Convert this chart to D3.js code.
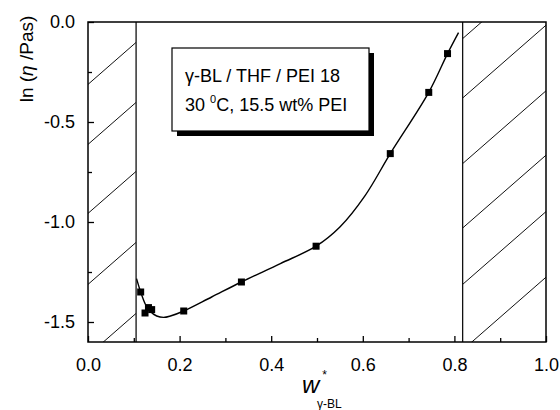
<!DOCTYPE html>
<html>
<head>
<meta charset="utf-8">
<script src="https://cdn.jsdelivr.net/npm/d3@7"></script>
<style>
  html, body { margin: 0; padding: 0; background: #fff; }
  svg { display: block; }
</style>
</head>
<body>
<div id="chart"></div>
<script>
// ln(viscosity) vs weight fraction of gamma-BL, with hatched two-phase regions

const xTicks      = [0.0, 0.2, 0.4, 0.6, 0.8, 1.0];
const xMinorTicks = [0.1, 0.3, 0.5, 0.7, 0.9];
const yTicks      = [-1.5, -1.0, -0.5, 0.0];
const yMinorTicks = [-1.25, -0.75, -0.25];

// measured points
const pointW   = [0.115, 0.1245, 0.132, 0.139, 0.209, 0.335, 0.498, 0.660, 0.744, 0.785];
const pointEta = [-1.350, -1.455, -1.428, -1.438, -1.445, -1.300, -1.121, -0.658, -0.352, -0.158];

// guide-to-the-eye curve
const curveW   = [0.106, 0.115, 0.125, 0.135, 0.150, 0.165, 0.180, 0.209, 0.270, 0.335, 0.420, 0.498, 0.550, 0.605, 0.660, 0.744, 0.785, 0.809];
const curveEta = [-1.283, -1.350, -1.410, -1.445, -1.470, -1.477, -1.470, -1.445, -1.375, -1.300, -1.208, -1.121, -1.025, -0.868, -0.658, -0.352, -0.158, -0.053];

// miscibility limits and hatch line offsets (ln eta at the left edge of each region)
const limitLow   = 0.105;
const limitHigh  = 0.818;
const hatchLeft  = [-0.312, -0.612, -0.957, -1.312, -1.667];
const hatchRight = [-0.083, -0.380, -0.708, -1.030, -1.312, -1.640];
const hatchSlope = 2.0;

const legendLines = ["γ-BL / THF / PEI 18", "30 ", "C, 15.5 wt% PEI"];

const W = 560, H = 410;
const m = { top: 22, right: 14, bottom: 68, left: 88 };
const iw = W - m.left - m.right;
const ih = H - m.top - m.bottom;
const FONT = "'Liberation Sans', Arial, Helvetica, sans-serif";

const x = d3.scaleLinear().domain([0, 1]).range([0, iw]);
const y = d3.scaleLinear().domain([-1.6, 0]).range([ih, 0]);

const svg = d3.select("#chart").append("svg")
  .attr("width", W)
  .attr("height", H);

const g = svg.append("g")
  .attr("transform", `translate(${m.left},${m.top})`);

// clip regions for the hatching
const defs = svg.append("defs");
defs.append("clipPath").attr("id", "clip-left")
  .append("rect")
    .attr("x", x(0)).attr("y", 0)
    .attr("width", x(limitLow) - x(0)).attr("height", ih);
defs.append("clipPath").attr("id", "clip-right")
  .append("rect")
    .attr("x", x(limitHigh)).attr("y", 0)
    .attr("width", x(1) - x(limitHigh)).attr("height", ih);

function hatch(offsets, x0, x1, clipId) {
  const hg = g.append("g").attr("clip-path", `url(#${clipId})`);
  offsets.forEach(c => {
    hg.append("line")
      .attr("x1", x(x0))
      .attr("y1", y(c))
      .attr("x2", x(x1))
      .attr("y2", y(c + hatchSlope * (x1 - x0)))
      .attr("stroke", "#111")
      .attr("stroke-width", 1);
  });
}
hatch(hatchLeft, 0, limitLow, "clip-left");
hatch(hatchRight, limitHigh, 1, "clip-right");

// limit lines
[limitLow, limitHigh].forEach(v => {
  g.append("line")
    .attr("x1", x(v)).attr("x2", x(v))
    .attr("y1", 0).attr("y2", ih)
    .attr("stroke", "#111")
    .attr("stroke-width", 1.3);
});

// legend box with drop shadow
const box = { x: 84, y: 26, w: 197, h: 83 };
g.append("rect")
  .attr("x", box.x + 5).attr("y", box.y + 5)
  .attr("width", box.w).attr("height", box.h)
  .attr("fill", "#000");
g.append("rect")
  .attr("x", box.x).attr("y", box.y)
  .attr("width", box.w).attr("height", box.h)
  .attr("fill", "#fff")
  .attr("stroke", "#000")
  .attr("stroke-width", 1.2);

g.append("text")
  .attr("x", box.x + 13)
  .attr("y", box.y + 34)
  .attr("font-family", FONT)
  .attr("font-size", "18px")
  .attr("fill", "#000")
  .text(legendLines[0]);

const t2 = g.append("text")
  .attr("x", box.x + 13)
  .attr("y", box.y + 63)
  .attr("font-family", FONT)
  .attr("font-size", "18px")
  .attr("fill", "#000");
t2.append("tspan").text(legendLines[1]);
t2.append("tspan").attr("font-size", "11px").attr("dy", -8).text("0");
t2.append("tspan").attr("dy", 8).text(legendLines[2]);

// curve
const line = d3.line()
  .x(d => x(d[0]))
  .y(d => y(d[1]))
  .curve(d3.curveCatmullRom.alpha(0.5));

g.append("path")
  .datum(curveW.map((w, i) => [w, curveEta[i]]))
  .attr("d", line)
  .attr("fill", "none")
  .attr("stroke", "#000")
  .attr("stroke-width", 1.4);

// points
const S = 7;
g.selectAll("rect.pt")
  .data(pointW.map((w, i) => [w, pointEta[i]]))
  .join("rect")
    .attr("class", "pt")
    .attr("x", d => x(d[0]) - S / 2)
    .attr("y", d => y(d[1]) - S / 2)
    .attr("width", S)
    .attr("height", S)
    .attr("fill", "#000");

// frame
g.append("rect")
  .attr("x", 0).attr("y", 0)
  .attr("width", iw).attr("height", ih)
  .attr("fill", "none")
  .attr("stroke", "#000")
  .attr("stroke-width", 1.5);

// x axis: ticks pointing inside
const xAxisG = g.append("g")
  .attr("transform", `translate(0,${ih})`)
  .call(d3.axisBottom(x).tickValues(xTicks).tickSize(-6).tickPadding(16)
    .tickFormat(d3.format(".1f")));
xAxisG.select(".domain").remove();
g.append("g")
  .attr("transform", `translate(0,${ih})`)
  .call(d3.axisBottom(x).tickValues(xMinorTicks).tickSize(-4).tickFormat(""))
  .select(".domain").remove();

// y axis: ticks pointing inside
const yAxisG = g.append("g")
  .call(d3.axisLeft(y).tickValues(yTicks).tickSize(-6).tickPadding(13)
    .tickFormat(d3.format(".1f")));
yAxisG.select(".domain").remove();
g.append("g")
  .call(d3.axisLeft(y).tickValues(yMinorTicks).tickSize(-4).tickFormat(""))
  .select(".domain").remove();

g.selectAll(".tick line").attr("stroke", "#000").attr("stroke-width", 1.3);
g.selectAll(".tick text")
  .attr("fill", "#000")
  .attr("font-family", FONT)
  .attr("font-size", "18px");
yAxisG.selectAll(".tick text").text(d => d === 0 ? "0.0" : d3.format(".1f")(d).replace("−", "-"));

// y axis label
const yl = svg.append("text")
  .attr("transform", "translate(33,59) rotate(-90)")
  .attr("text-anchor", "middle")
  .attr("font-family", FONT)
  .attr("font-size", "19px")
  .attr("fill", "#000");
yl.append("tspan").text("ln (");
yl.append("tspan").attr("font-style", "italic").text("η");
yl.append("tspan").text(" /Pas)");

// x axis label
const xl = svg.append("text")
  .attr("x", 302)
  .attr("y", 393)
  .attr("font-family", FONT)
  .attr("fill", "#000");
xl.append("tspan").attr("font-size", "24px").attr("font-style", "italic").text("w");
xl.append("tspan").attr("font-size", "12px").attr("dx", 3).attr("dy", -14).text("*");
svg.append("text")
  .attr("x", 317)
  .attr("y", 408)
  .attr("font-family", FONT)
  .attr("font-size", "12px")
  .attr("fill", "#000")
  .text("γ-BL");
</script>
</body>
</html>
